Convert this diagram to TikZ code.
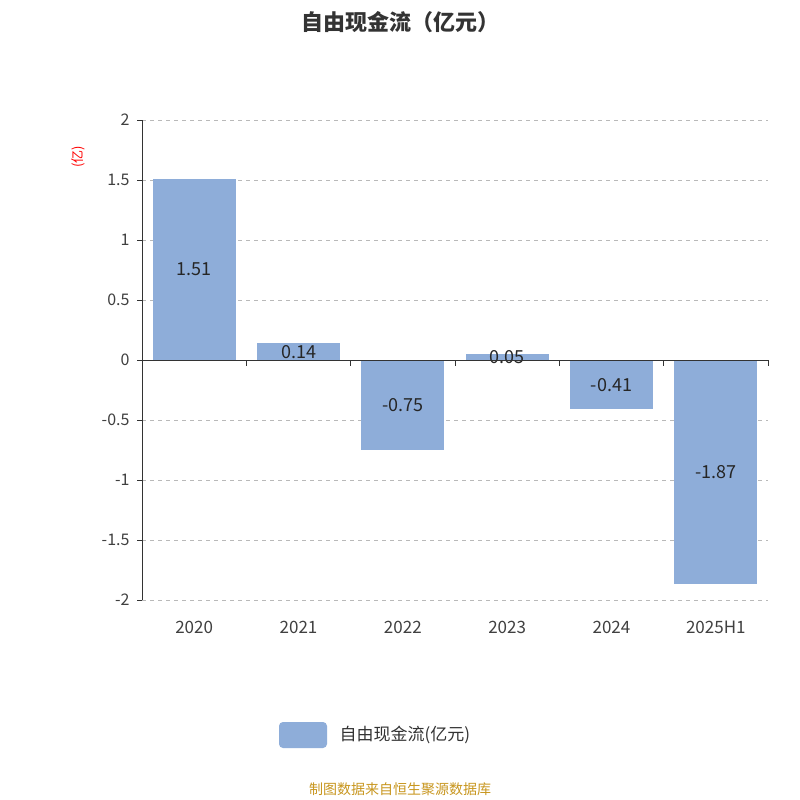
\documentclass[tikz,border=0pt]{standalone}
\usepackage{fontspec}
\setmainfont{Noto Sans CJK SC}
\begin{document}
\begin{tikzpicture}[x=1pt,y=-1pt,
  bar/.style={fill=barc,draw=none},
  grid/.style={draw=gray!55,dash pattern=on 4pt off 4pt,line width=0.8pt},
  tick/.style={font=\fontsize{16}{16}\selectfont,text=black!75},
  val/.style={font=\fontsize{18}{18}\selectfont,text=black!85}]
\definecolor{barc}{HTML}{8EADD9}
\definecolor{foot}{HTML}{C8961E}
\useasboundingbox[fill=white] (0,0) rectangle (800,800);
\node[font=\fontsize{22}{22}\selectfont\bfseries,text=black!80] (title) at (400,22) {自由现金流（亿元）};
\foreach \v/\l in {2/2,1.5/1.5,1/1,0.5/0.5,-0.5/-0.5,-1/-1,-1.5/-1.5,-2/-2}{
  \draw[grid] (142,{360-120*\v}) -- (768,{360-120*\v});
}
\foreach \v/\l in {2/2,1.5/1.5,1/1,0.5/0.5,0/0,-0.5/-0.5,-1/-1,-1.5/-1.5,-2/-2}{
  \draw[black!80] (137,{360-120*\v}) -- (142,{360-120*\v});
  \node[tick,anchor=east] (yl\l) at (133,{360-120*\v}) {\l};
}
\node[rotate=90,text=red,font=\fontsize{13}{13}\selectfont] (unit) at (78,157) {(亿)};
\foreach \i/\y/\v in {0/2020/1.51,1/2021/0.14,2/2022/-0.75,3/2023/0.05,4/2024/-0.41,5/2025H1/-1.87}{
  \pgfmathsetmacro\xc{142+104.33*\i+52.17}
  \fill[bar] ({\xc-41.5},360) rectangle ({\xc+41.5},{360-120*\v});
  \node[val] (v\i) at (\xc,{360-60*\v}) {\v};
  \node[tick,font=\fontsize{17}{17}\selectfont] (x\i) at (\xc,627) {\y};
}
\draw[black!80] (142,120) -- (142,600);
\draw[black!80] (142,360) -- (768,360);
\foreach \i in {0,...,6}{\draw[black!80] ({142+104.33*\i},360) -- ({142+104.33*\i},366);}
\fill[barc,rounded corners=4pt] (279,722) rectangle (327,748);
\node[anchor=west,font=\fontsize{17}{17}\selectfont,text=black!80] (leg) at (336,735) {自由现金流(亿元)};
\node[text=foot,font=\fontsize{14}{14}\selectfont] (foot) at (400,789) {制图数据来自恒生聚源数据库};
\end{tikzpicture}
\end{document}
